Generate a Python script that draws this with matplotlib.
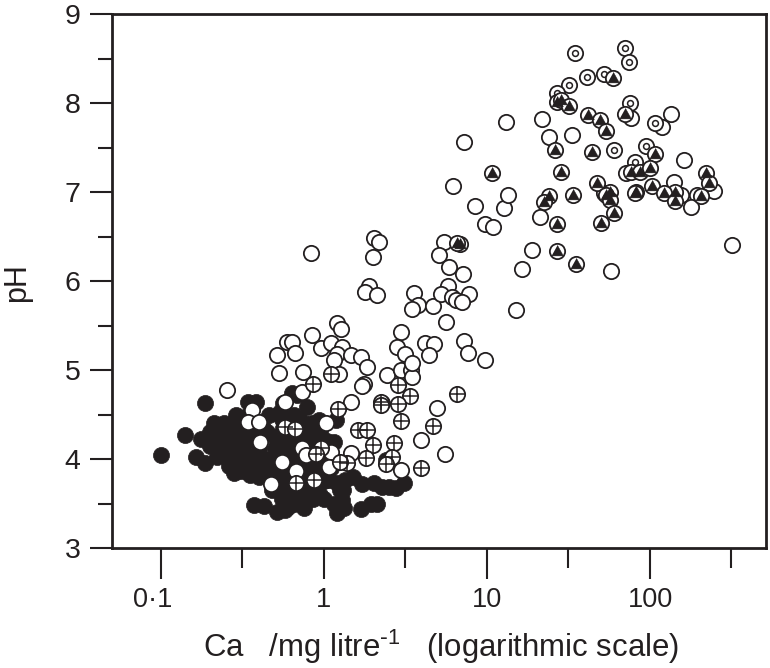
import matplotlib
matplotlib.use('Agg')
import matplotlib.pyplot as plt
from matplotlib.transforms import ScaledTranslation

plt.rcParams['font.family'] = ['Liberation Sans', 'DejaVu Sans']
plt.rcParams['mathtext.default'] = 'regular'

# Ca (mg/litre) and pH
solid_ca = [0.1, 0.14, 0.185, 0.165, 0.185, 0.175, 0.21, 0.245, 0.29, 0.34, 0.38, 0.56, 0.54, 0.68,
            0.37, 0.43, 0.515, 0.6, 1.0, 1.15, 1.29, 1.32, 1.2, 1.68, 1.95, 2.1,
            1.72, 2.03, 2.27, 2.77, 3.1, 2.5, 1.2, 1.08, 1.35, 0.73, 0.58, 0.93, 1.15, 0.79, 0.64,
            1.18, 2.27, 0.84, 2.4,
            0.2, 0.22, 0.24, 0.26, 0.28, 0.3, 0.32, 0.35, 0.38, 0.42,
            0.2, 0.23, 0.26, 0.29, 0.32, 0.36, 0.4, 0.45, 0.5, 0.56,
            0.22, 0.25, 0.28, 0.31, 0.35, 0.39, 0.44, 0.5, 0.55, 0.62, 0.7,
            0.26, 0.3, 0.34, 0.38, 0.43, 0.48, 0.54, 0.6, 0.68, 0.76, 0.85,
            0.28, 0.31, 0.35, 0.4, 0.45, 0.52, 0.6, 0.68, 0.78, 0.88, 1.0,
            0.3, 0.34, 0.39, 0.46, 0.55, 0.65, 0.75, 0.9, 1.05,
            0.62, 0.7, 0.8, 0.95, 0.52, 0.66, 0.86, 0.75, 1.3, 1.5, 1.1,
            0.5, 0.55, 0.6, 0.65, 0.7, 0.75, 0.8, 0.85, 0.9, 0.95, 1.0, 1.05, 1.25, 0.6,
            0.7, 0.5, 0.85, 0.95, 1.05, 0.6, 0.75, 0.85, 0.65, 0.7, 0.95, 0.55, 0.65, 0.48]
solid_ph = [4.05, 4.27, 4.63, 4.02, 3.95, 4.22, 4.4, 4.4, 4.5, 4.64, 4.64, 4.63, 4.53, 4.72,
            3.48, 3.47, 3.4, 3.46, 3.55, 3.5, 3.54, 3.45, 3.39, 3.44, 3.49, 3.5,
            3.72, 3.73, 3.69, 3.67, 3.73, 3.69, 3.73, 3.76, 3.76, 3.5, 3.43, 4.44, 4.19, 4.58, 4.74,
            4.44, 4.63, 4.29, 3.99,
            4.3, 4.3, 4.25, 4.35, 4.28, 4.42, 4.3, 4.38, 4.25, 4.35,
            4.15, 4.18, 4.12, 4.2, 4.14, 4.22, 4.12, 4.3, 4.25, 4.35,
            4.02, 4.05, 4.0, 4.08, 4.02, 4.05, 4.0, 4.12, 4.15, 4.22, 4.28,
            3.92, 3.95, 3.88, 3.92, 3.95, 3.9, 3.98, 4.02, 4.05, 4.15, 4.18,
            3.84, 3.86, 3.82, 3.8, 3.84, 3.78, 3.82, 3.9, 3.92, 3.9, 3.95,
            4.45, 4.5, 4.42, 4.5, 4.45, 4.5, 4.4, 4.35, 4.2,
            3.7, 3.62, 3.68, 3.6, 3.65, 3.55, 3.55, 3.45, 3.65, 3.8, 3.9,
            3.85, 3.75, 3.65, 3.75, 3.85, 3.75, 3.6, 3.8, 3.7, 3.85, 3.75, 3.9, 3.65, 3.95,
            4.0, 4.0, 4.0, 4.05, 4.1, 4.15, 4.25, 4.4, 4.35, 4.45, 4.3, 3.55, 3.5, 3.65]

open_ca = [0.83, 2.03, 2.17, 2.0, 1.89, 1.78, 2.11, 3.57, 3.78, 3.47, 4.66, 5.45, 5.07, 5.84, 7.1, 5.76, 5.2, 7.75,
           6.1, 6.45, 7.0, 5.6, 2.96, 2.8, 3.14, 4.17, 4.73, 4.4, 7.2, 7.6, 9.7,
           1.2, 1.27, 0.84, 0.59, 0.64, 0.515, 0.66, 0.53, 0.74, 0.96, 1.1, 1.29, 1.2, 1.15, 1.46, 1.68, 1.84, 1.24,
           1.76, 1.71, 2.43, 2.96, 3.41, 3.47, 3.47, 0.73,
           1.46, 4.9, 3.93, 5.5, 2.96, 1.46, 1.1,
           0.255, 0.36, 0.34, 0.4, 0.58, 0.405, 0.55, 0.73, 0.67, 0.47, 0.78, 1.03, 1.07,
           7.2, 6.2, 8.5, 9.7, 10.9, 12.8, 13.5, 13, 16.4, 19, 15,
           21.8, 24, 33, 76, 118, 134, 162, 71, 140, 156, 195, 248, 178, 21, 52, 58, 320]
open_ph = [6.31, 6.48, 6.44, 6.27, 5.94, 5.88, 5.84, 5.87, 5.73, 5.68, 5.72, 6.44, 6.29, 6.16, 6.08, 5.94, 5.85, 5.85,
           5.82, 5.79, 5.76, 5.54, 5.43, 5.26, 5.18, 5.3, 5.29, 5.17, 5.33, 5.19, 5.11,
           5.53, 5.46, 5.39, 5.31, 5.31, 5.17, 5.19, 4.97, 4.98, 5.25, 5.3, 5.26, 5.18, 5.11, 5.17, 5.15, 5.03, 4.96,
           4.84, 4.82, 4.94, 5.0, 5.0, 4.92, 5.08, 4.75,
           4.64, 4.57, 4.21, 4.06, 3.88, 4.07, 4.08,
           4.78, 4.55, 4.42, 4.42, 4.64, 4.19, 3.97, 4.12, 3.87, 3.72, 4.05, 4.4, 3.91,
           7.56, 7.07, 6.84, 6.64, 6.61, 6.82, 6.97, 7.79, 6.14, 6.35, 5.67,
           7.82, 7.62, 7.64, 7.83, 7.73, 7.88, 7.36, 7.21, 7.11, 6.97, 6.97, 7.01, 6.83, 6.72, 6.99, 6.11, 6.41]

cross_ca = [1.1, 0.86, 2.24, 2.24, 3.37, 2.84, 2.84, 6.54, 1.22, 2.96, 4.66, 1.62, 1.84, 0.58, 0.66, 2.0, 2.69,
            0.96, 0.89, 1.38, 1.25, 1.81, 2.61, 2.4, 0.87, 0.67, 3.93]
cross_ph = [4.96, 4.84, 4.64, 4.61, 4.71, 4.83, 4.62, 4.73, 4.56, 4.43, 4.37, 4.33, 4.33, 4.36, 4.34, 4.16, 4.18,
            4.12, 4.06, 3.95, 3.97, 4.01, 4.02, 3.94, 3.76, 3.73, 3.9]

dot_ca = [34.6, 70, 74, 41, 52, 32, 27, 75, 107, 60, 94, 81]
dot_ph = [8.56, 8.62, 8.46, 8.29, 8.33, 8.2, 8.11, 8.0, 7.78, 7.47, 7.52, 7.34]

tri_ca = [27, 28.5, 32, 59, 41.6, 49, 54, 70, 26, 44, 107, 28.5, 76, 87, 100, 47, 220, 230, 103, 142, 122, 205,
          142, 82, 81, 24, 22.5, 33.5, 57, 54, 57, 50, 60, 27, 27, 35, 6.8, 6.5, 10.7]
tri_ph = [8.01, 8.03, 7.97, 8.28, 7.87, 7.81, 7.69, 7.88, 7.47, 7.45, 7.43, 7.22, 7.22, 7.22, 7.27, 7.1, 7.21, 7.1,
          7.07, 7.0, 6.99, 6.95, 6.9, 7.0, 6.99, 6.95, 6.89, 6.97, 7.0, 6.97, 6.91, 6.65, 6.76, 6.64, 6.34, 6.19,
          6.42, 6.43, 7.21]

y_ticks = [3, 4, 5, 6, 7, 8, 9]
y_minor = [3.5, 4.5, 5.5, 6.5, 7.5, 8.5]
x_ticks = [0.1, 1, 10, 100]
x_labels = ['0·1', '1', '10', '100']
x_minor = [0.316, 3.16, 31.6, 316]

ink = '#231f20'

fig = plt.figure(figsize=(7.7, 6.68), dpi=100)
ax = fig.add_axes([112 / 770, 1 - 548 / 668, (766 - 112) / 770, (548 - 14) / 668])

ax.set_xscale('log')
# 0.1 sits at px 161 and each decade is 163 px wide
ax.set_xlim(10 ** (-1 - 49 / 163), 10 ** (-1 + 605 / 163))
ax.set_ylim(3, 9)

size = 11
edge = 1.3
tri_marker = [(-1, -0.75), (1, -0.75), (0, 1.05)]
ax.plot(solid_ca, solid_ph, 'o', ms=size + 0.6, mfc=ink, mec=ink, mew=0.5, zorder=2)
ax.plot(open_ca, open_ph, 'o', ms=size, mfc='white', mec=ink, mew=edge, zorder=3)
ax.plot(cross_ca, cross_ph, 'o', ms=size, mfc='white', mec=ink, mew=edge, zorder=4)
ax.plot(cross_ca, cross_ph, '+', ms=size, mec=ink, mew=1.1, zorder=4)
ax.plot(dot_ca, dot_ph, 'o', ms=size, mfc='white', mec=ink, mew=edge, zorder=4)
ax.plot(dot_ca, dot_ph, 'o', ms=4.2, mfc='white', mec=ink, mew=1.1, zorder=4)
ax.plot(tri_ca, tri_ph, 'o', ms=size, mfc='white', mec=ink, mew=edge, zorder=5)
ax.plot(tri_ca, tri_ph, marker=tri_marker, ls='none', ms=8.9, mfc=ink, mec=ink, mew=0.3, zorder=5)

ax.set_xticks(x_ticks)
ax.set_xticklabels(x_labels)
ax.set_xticks(x_minor, minor=True)
ax.set_xticklabels([], minor=True)
ax.set_yticks(y_ticks)
ax.set_yticks(y_minor, minor=True)

for side in ax.spines.values():
    side.set_linewidth(2)
    side.set_color(ink)
ax.tick_params(axis='x', which='major', length=22, width=1.5, color=ink, labelsize=19.5, labelcolor=ink, pad=6)
ax.tick_params(axis='x', which='minor', length=14.5, width=1.5, color=ink)
ax.tick_params(axis='y', which='major', length=15.8, width=1.5, color=ink, labelsize=20.5, labelcolor=ink, pad=7)
ax.tick_params(axis='y', which='minor', length=10, width=1.5, color=ink)

# the 0·1 label sits left of its tick in the original
first = ax.get_xticklabels()[0]
first.set_transform(first.get_transform() + ScaledTranslation(-8 / 100, 0, fig.dpi_scale_trans))

ax.set_xlabel('Ca   /mg litre$^{\\text{-}1}$   (logarithmic scale)', fontsize=22.4, color=ink)
ax.xaxis.set_label_coords(0.503, -0.1495)
ax.set_ylabel('pH', fontsize=22, color=ink)
ax.yaxis.set_label_coords(-0.122, 0.498)

fig.savefig('out.png', dpi=100)
